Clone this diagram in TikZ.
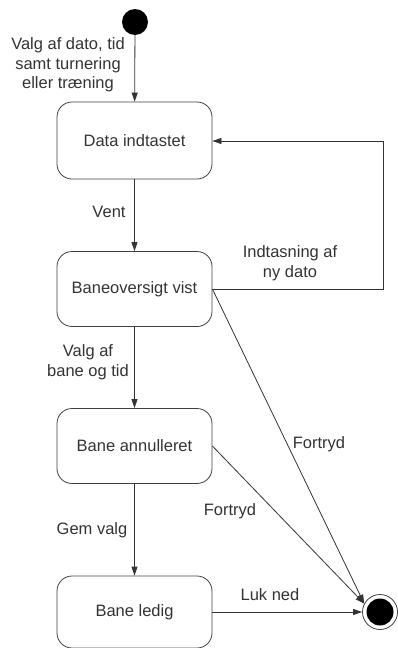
\documentclass[tikz,border=0pt]{standalone}
\usepackage{fontspec}
\setmainfont{Liberation Sans}
\usetikzlibrary{arrows.meta}
\begin{document}
\begin{tikzpicture}[x=1pt,y=-1pt,
  state/.style={draw=black!75, line width=0.8pt, rounded corners=15pt, minimum width=155pt, inner sep=0pt, font=\fontsize{16.5}{19}\selectfont, text=black!80},
  lbl/.style={font=\fontsize{16.5}{19.5}\selectfont, text=black!80, align=center, inner sep=0pt},
  flow/.style={draw=black!80, line width=0.8pt, -{Triangle[length=9pt,width=6pt]}},
]
\useasboundingbox (0,0) rectangle (398,648);
% states
\node[state, minimum height=77pt] (s1) at (134.5,140.5) {Data indtastet};
\node[state, minimum height=75pt] (s2) at (134.5,289) {Baneoversigt vist};
\node[state, minimum height=75pt] (s3) at (134.5,446) {Bane annulleret};
\node[state, minimum height=72pt] (s4) at (134.5,612) {Bane ledig};
% start and end
\node[circle, fill=black, minimum size=26pt, inner sep=0pt] (start) at (135,22) {};
\node[circle, draw=black!75, line width=0.8pt, minimum size=35pt, inner sep=0pt] (end) at (380,612) {};
\node[circle, fill=black, minimum size=27pt, inner sep=0pt] (endin) at (end.center) {};
% transitions
\draw[flow] (start) -- (s1);
\draw[flow] (s1) -- (s2);
\draw[flow] (s2) -- (s3);
\draw[flow] (s3) -- (s4);
\coordinate (c1) at (383,289);
\coordinate (c2) at (383,141);
\draw[flow] (s2.east) -- (c1) -- (c2) -- (s1.east |- c2);
\draw[flow] (s2.east) -- (end.152);
\draw[flow] (s3.east) -- (end.152);
\draw[flow] (s4.east) -- (end.west);
% labels
\node[lbl] (l1) at (68,65) {Valg af dato, tid\\samt turnering\\eller træning};
\node[lbl] (l2) at (109,212) {Vent};
\node[lbl] (l3) at (290,263) {Indtasning af\\ny dato};
\node[lbl] (l4) at (88,362) {Valg af\\bane og tid};
\node[lbl] (l5) at (319,444) {Fortryd};
\node[lbl] (l6) at (230,511) {Fortryd};
\node[lbl] (l7) at (92,530) {Gem valg};
\node[lbl] (l8) at (270,595) {Luk ned};
\end{tikzpicture}
\end{document}
